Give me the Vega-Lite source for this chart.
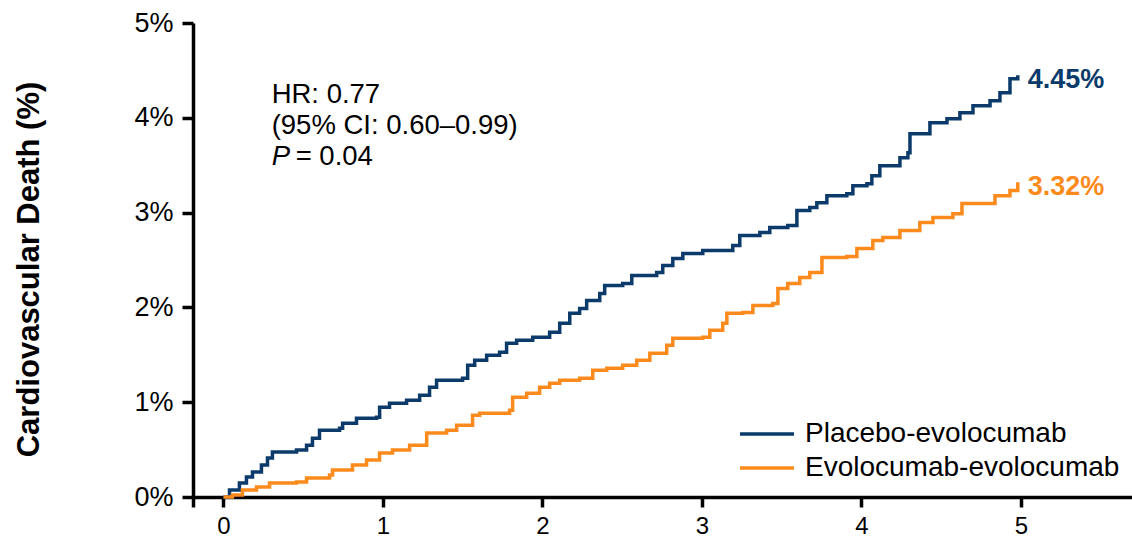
{
  "$schema": "https://vega.github.io/schema/vega-lite/v6.json",
  "autosize": "none",
  "width": 939,
  "height": 474,
  "padding": {"left": 193, "top": 23, "right": 0, "bottom": 42},
  "background": "white",
  "config": {
    "view": {"stroke": null},
    "font": "Liberation Sans",
    "axis": {"grid": false, "domainColor": "black", "tickColor": "black", "labelColor": "black", "titleColor": "black", "domainWidth": 3.5, "tickWidth": 3.5, "labelFont": "Liberation Sans", "titleFont": "Liberation Sans"}
  },
  "datasets": {
    "km": [
      {"t": 0.000, "pct": 0.000, "group": "Placebo-evolocumab"},
      {"t": 0.038, "pct": 0.074, "group": "Placebo-evolocumab"},
      {"t": 0.100, "pct": 0.147, "group": "Placebo-evolocumab"},
      {"t": 0.144, "pct": 0.211, "group": "Placebo-evolocumab"},
      {"t": 0.182, "pct": 0.263, "group": "Placebo-evolocumab"},
      {"t": 0.238, "pct": 0.337, "group": "Placebo-evolocumab"},
      {"t": 0.276, "pct": 0.411, "group": "Placebo-evolocumab"},
      {"t": 0.307, "pct": 0.474, "group": "Placebo-evolocumab"},
      {"t": 0.458, "pct": 0.495, "group": "Placebo-evolocumab"},
      {"t": 0.521, "pct": 0.547, "group": "Placebo-evolocumab"},
      {"t": 0.558, "pct": 0.621, "group": "Placebo-evolocumab"},
      {"t": 0.602, "pct": 0.705, "group": "Placebo-evolocumab"},
      {"t": 0.728, "pct": 0.726, "group": "Placebo-evolocumab"},
      {"t": 0.747, "pct": 0.779, "group": "Placebo-evolocumab"},
      {"t": 0.834, "pct": 0.832, "group": "Placebo-evolocumab"},
      {"t": 0.960, "pct": 0.842, "group": "Placebo-evolocumab"},
      {"t": 0.979, "pct": 0.947, "group": "Placebo-evolocumab"},
      {"t": 1.041, "pct": 0.989, "group": "Placebo-evolocumab"},
      {"t": 1.148, "pct": 1.021, "group": "Placebo-evolocumab"},
      {"t": 1.230, "pct": 1.074, "group": "Placebo-evolocumab"},
      {"t": 1.292, "pct": 1.158, "group": "Placebo-evolocumab"},
      {"t": 1.336, "pct": 1.232, "group": "Placebo-evolocumab"},
      {"t": 1.499, "pct": 1.253, "group": "Placebo-evolocumab"},
      {"t": 1.531, "pct": 1.389, "group": "Placebo-evolocumab"},
      {"t": 1.575, "pct": 1.442, "group": "Placebo-evolocumab"},
      {"t": 1.650, "pct": 1.495, "group": "Placebo-evolocumab"},
      {"t": 1.731, "pct": 1.526, "group": "Placebo-evolocumab"},
      {"t": 1.775, "pct": 1.621, "group": "Placebo-evolocumab"},
      {"t": 1.838, "pct": 1.653, "group": "Placebo-evolocumab"},
      {"t": 1.939, "pct": 1.684, "group": "Placebo-evolocumab"},
      {"t": 2.045, "pct": 1.737, "group": "Placebo-evolocumab"},
      {"t": 2.108, "pct": 1.832, "group": "Placebo-evolocumab"},
      {"t": 2.171, "pct": 1.937, "group": "Placebo-evolocumab"},
      {"t": 2.233, "pct": 1.989, "group": "Placebo-evolocumab"},
      {"t": 2.277, "pct": 2.074, "group": "Placebo-evolocumab"},
      {"t": 2.359, "pct": 2.147, "group": "Placebo-evolocumab"},
      {"t": 2.390, "pct": 2.232, "group": "Placebo-evolocumab"},
      {"t": 2.503, "pct": 2.253, "group": "Placebo-evolocumab"},
      {"t": 2.560, "pct": 2.337, "group": "Placebo-evolocumab"},
      {"t": 2.716, "pct": 2.368, "group": "Placebo-evolocumab"},
      {"t": 2.754, "pct": 2.442, "group": "Placebo-evolocumab"},
      {"t": 2.817, "pct": 2.516, "group": "Placebo-evolocumab"},
      {"t": 2.880, "pct": 2.568, "group": "Placebo-evolocumab"},
      {"t": 3.005, "pct": 2.600, "group": "Placebo-evolocumab"},
      {"t": 3.193, "pct": 2.653, "group": "Placebo-evolocumab"},
      {"t": 3.237, "pct": 2.758, "group": "Placebo-evolocumab"},
      {"t": 3.363, "pct": 2.789, "group": "Placebo-evolocumab"},
      {"t": 3.425, "pct": 2.842, "group": "Placebo-evolocumab"},
      {"t": 3.538, "pct": 2.863, "group": "Placebo-evolocumab"},
      {"t": 3.595, "pct": 3.021, "group": "Placebo-evolocumab"},
      {"t": 3.676, "pct": 3.053, "group": "Placebo-evolocumab"},
      {"t": 3.720, "pct": 3.105, "group": "Placebo-evolocumab"},
      {"t": 3.783, "pct": 3.179, "group": "Placebo-evolocumab"},
      {"t": 3.908, "pct": 3.200, "group": "Placebo-evolocumab"},
      {"t": 3.946, "pct": 3.284, "group": "Placebo-evolocumab"},
      {"t": 4.034, "pct": 3.305, "group": "Placebo-evolocumab"},
      {"t": 4.065, "pct": 3.389, "group": "Placebo-evolocumab"},
      {"t": 4.115, "pct": 3.495, "group": "Placebo-evolocumab"},
      {"t": 4.241, "pct": 3.579, "group": "Placebo-evolocumab"},
      {"t": 4.291, "pct": 3.632, "group": "Placebo-evolocumab"},
      {"t": 4.304, "pct": 3.832, "group": "Placebo-evolocumab"},
      {"t": 4.429, "pct": 3.947, "group": "Placebo-evolocumab"},
      {"t": 4.536, "pct": 3.989, "group": "Placebo-evolocumab"},
      {"t": 4.617, "pct": 4.053, "group": "Placebo-evolocumab"},
      {"t": 4.699, "pct": 4.126, "group": "Placebo-evolocumab"},
      {"t": 4.806, "pct": 4.179, "group": "Placebo-evolocumab"},
      {"t": 4.868, "pct": 4.263, "group": "Placebo-evolocumab"},
      {"t": 4.931, "pct": 4.411, "group": "Placebo-evolocumab"},
      {"t": 4.980, "pct": 4.450, "group": "Placebo-evolocumab"},
      {"t": 0.000, "pct": 0.000, "group": "Evolocumab-evolocumab"},
      {"t": 0.056, "pct": 0.021, "group": "Evolocumab-evolocumab"},
      {"t": 0.119, "pct": 0.074, "group": "Evolocumab-evolocumab"},
      {"t": 0.207, "pct": 0.105, "group": "Evolocumab-evolocumab"},
      {"t": 0.289, "pct": 0.147, "group": "Evolocumab-evolocumab"},
      {"t": 0.458, "pct": 0.158, "group": "Evolocumab-evolocumab"},
      {"t": 0.521, "pct": 0.200, "group": "Evolocumab-evolocumab"},
      {"t": 0.665, "pct": 0.232, "group": "Evolocumab-evolocumab"},
      {"t": 0.684, "pct": 0.284, "group": "Evolocumab-evolocumab"},
      {"t": 0.809, "pct": 0.337, "group": "Evolocumab-evolocumab"},
      {"t": 0.897, "pct": 0.389, "group": "Evolocumab-evolocumab"},
      {"t": 0.979, "pct": 0.463, "group": "Evolocumab-evolocumab"},
      {"t": 1.060, "pct": 0.495, "group": "Evolocumab-evolocumab"},
      {"t": 1.167, "pct": 0.547, "group": "Evolocumab-evolocumab"},
      {"t": 1.274, "pct": 0.674, "group": "Evolocumab-evolocumab"},
      {"t": 1.399, "pct": 0.705, "group": "Evolocumab-evolocumab"},
      {"t": 1.462, "pct": 0.758, "group": "Evolocumab-evolocumab"},
      {"t": 1.562, "pct": 0.863, "group": "Evolocumab-evolocumab"},
      {"t": 1.606, "pct": 0.884, "group": "Evolocumab-evolocumab"},
      {"t": 1.794, "pct": 0.916, "group": "Evolocumab-evolocumab"},
      {"t": 1.813, "pct": 1.053, "group": "Evolocumab-evolocumab"},
      {"t": 1.901, "pct": 1.095, "group": "Evolocumab-evolocumab"},
      {"t": 1.982, "pct": 1.158, "group": "Evolocumab-evolocumab"},
      {"t": 2.045, "pct": 1.200, "group": "Evolocumab-evolocumab"},
      {"t": 2.108, "pct": 1.232, "group": "Evolocumab-evolocumab"},
      {"t": 2.233, "pct": 1.253, "group": "Evolocumab-evolocumab"},
      {"t": 2.315, "pct": 1.337, "group": "Evolocumab-evolocumab"},
      {"t": 2.403, "pct": 1.358, "group": "Evolocumab-evolocumab"},
      {"t": 2.503, "pct": 1.389, "group": "Evolocumab-evolocumab"},
      {"t": 2.591, "pct": 1.442, "group": "Evolocumab-evolocumab"},
      {"t": 2.673, "pct": 1.516, "group": "Evolocumab-evolocumab"},
      {"t": 2.779, "pct": 1.600, "group": "Evolocumab-evolocumab"},
      {"t": 2.817, "pct": 1.674, "group": "Evolocumab-evolocumab"},
      {"t": 3.005, "pct": 1.684, "group": "Evolocumab-evolocumab"},
      {"t": 3.049, "pct": 1.758, "group": "Evolocumab-evolocumab"},
      {"t": 3.130, "pct": 1.832, "group": "Evolocumab-evolocumab"},
      {"t": 3.156, "pct": 1.937, "group": "Evolocumab-evolocumab"},
      {"t": 3.256, "pct": 1.947, "group": "Evolocumab-evolocumab"},
      {"t": 3.319, "pct": 2.021, "group": "Evolocumab-evolocumab"},
      {"t": 3.444, "pct": 2.042, "group": "Evolocumab-evolocumab"},
      {"t": 3.476, "pct": 2.200, "group": "Evolocumab-evolocumab"},
      {"t": 3.538, "pct": 2.253, "group": "Evolocumab-evolocumab"},
      {"t": 3.613, "pct": 2.316, "group": "Evolocumab-evolocumab"},
      {"t": 3.676, "pct": 2.368, "group": "Evolocumab-evolocumab"},
      {"t": 3.752, "pct": 2.526, "group": "Evolocumab-evolocumab"},
      {"t": 3.908, "pct": 2.537, "group": "Evolocumab-evolocumab"},
      {"t": 3.971, "pct": 2.621, "group": "Evolocumab-evolocumab"},
      {"t": 4.071, "pct": 2.705, "group": "Evolocumab-evolocumab"},
      {"t": 4.134, "pct": 2.737, "group": "Evolocumab-evolocumab"},
      {"t": 4.241, "pct": 2.811, "group": "Evolocumab-evolocumab"},
      {"t": 4.366, "pct": 2.895, "group": "Evolocumab-evolocumab"},
      {"t": 4.448, "pct": 2.947, "group": "Evolocumab-evolocumab"},
      {"t": 4.573, "pct": 2.989, "group": "Evolocumab-evolocumab"},
      {"t": 4.630, "pct": 3.095, "group": "Evolocumab-evolocumab"},
      {"t": 4.824, "pct": 3.095, "group": "Evolocumab-evolocumab"},
      {"t": 4.837, "pct": 3.179, "group": "Evolocumab-evolocumab"},
      {"t": 4.931, "pct": 3.232, "group": "Evolocumab-evolocumab"},
      {"t": 4.980, "pct": 3.320, "group": "Evolocumab-evolocumab"}
    ],
    "ends": [
      {"t": 4.98, "pct": 4.45, "group": "Placebo-evolocumab", "label": "4.45%"},
      {"t": 4.98, "pct": 3.32, "group": "Evolocumab-evolocumab", "label": "3.32%"}
    ],
    "stats": [
      {"p": "P", "pval": "= 0.04"}
    ]
  },
  "layer": [
    {
      "data": {"name": "km"},
      "mark": {"type": "line", "interpolate": "step-after", "strokeWidth": 3.5},
      "encoding": {
        "x": {"field": "t", "type": "quantitative", "scale": {"domain": [-0.191, 5.696], "nice": false, "zero": false},
          "axis": {"values": [-0.191, 0, 1, 2, 3, 4, 5], "labelExpr": "datum.value < 0 ? '' : format(datum.value, 'd')", "title": null, "tickSize": 10, "labelFontSize": 24, "labelPadding": 7}},
        "y": {"field": "pct", "type": "quantitative", "scale": {"domain": [0, 5], "nice": false},
          "axis": {"values": [0, 1, 2, 3, 4, 5], "labelExpr": "datum.value + '%'", "tickSize": 11, "labelFontSize": 27, "labelPadding": 9,
            "title": "Cardiovascular Death (%)", "titleFontSize": 31, "titleFontWeight": "bold", "titleX": -155, "titleY": 246, "titleBaseline": "alphabetic", "titleAngle": -90}},
        "color": {"field": "group", "type": "nominal",
          "scale": {"domain": ["Placebo-evolocumab", "Evolocumab-evolocumab"], "range": ["#0b3a6b", "#fd8a1c"]},
          "legend": {"title": null, "orient": "none", "legendX": 560, "legendY": 397, "padding": 0,
            "symbolType": "M-3,0H3", "symbolSize": 324, "symbolStrokeWidth": 3.5, "symbolFillColor": "transparent",
            "labelFontSize": 28, "labelFont": "Liberation Sans", "labelColor": "black", "labelOffset": 24, "labelLimit": 500, "rowPadding": 6}}
      }
    },
    {
      "data": {"name": "ends"},
      "mark": {"type": "text", "align": "left", "baseline": "middle", "dx": 10, "dy": 5, "fontSize": 27, "fontWeight": "bold", "font": "Liberation Sans"},
      "encoding": {
        "x": {"field": "t", "type": "quantitative"},
        "y": {"field": "pct", "type": "quantitative"},
        "text": {"field": "label"},
        "color": {"field": "group", "type": "nominal", "legend": null}
      }
    },
    {
      "data": {"name": "stats"},
      "mark": {"type": "text", "align": "left", "baseline": "alphabetic", "fontSize": 27.5, "lineHeight": 31, "font": "Liberation Sans", "color": "black"},
      "encoding": {
        "x": {"datum": 0.302},
        "y": {"datum": 4.156},
        "text": {"value": ["HR: 0.77", "(95% CI: 0.60–0.99)"]}
      }
    },
    {
      "data": {"name": "stats"},
      "mark": {"type": "text", "align": "left", "baseline": "alphabetic", "fontSize": 27.5, "fontStyle": "italic", "font": "Liberation Sans", "color": "black"},
      "encoding": {
        "x": {"datum": 0.302},
        "y": {"datum": 3.502},
        "text": {"field": "p"}
      }
    },
    {
      "data": {"name": "stats"},
      "mark": {"type": "text", "align": "left", "baseline": "alphabetic", "dx": 24, "fontSize": 27.5, "font": "Liberation Sans", "color": "black"},
      "encoding": {
        "x": {"datum": 0.302},
        "y": {"datum": 3.502},
        "text": {"field": "pval"}
      }
    }
  ]
}
